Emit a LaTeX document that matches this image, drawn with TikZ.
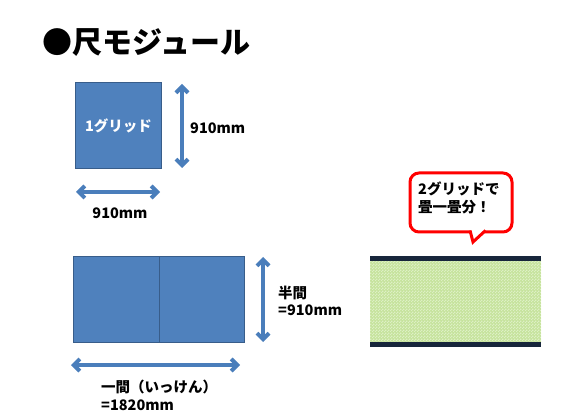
\documentclass[tikz,border=0pt]{standalone}
\usepackage{fontspec}
\setmainfont{Noto Sans CJK JP}
\usetikzlibrary{arrows.meta,patterns.meta}
\definecolor{gridblue}{HTML}{4F81BD}
\definecolor{gridline}{HTML}{385D8A}
\definecolor{arrowblue}{HTML}{4A7EBB}
\definecolor{tatamigreen}{HTML}{C6E39C}
\definecolor{tatamidot}{HTML}{DDF0C4}
\definecolor{heri}{HTML}{17263B}
\tikzdeclarepattern{
	name=finechecker,
	bottom left={(0pt,0pt)},
	top right={(3pt,3pt)},
	tile size={(3pt,3pt)},
	code={\fill (0pt,0pt) rectangle (1.5pt,1.5pt); \fill (1.5pt,1.5pt) rectangle (3pt,3pt);}
}
\begin{document}
\begin{tikzpicture}[x=1pt,y=-1pt,
	grid/.style={draw=gridline,fill=gridblue,line width=1pt,anchor=north west,inner sep=0pt},
	dim/.style={draw=arrowblue,line width=4pt,{Straight Barb[length=6pt,width=12pt]}-{Straight Barb[length=6pt,width=12pt]}},
	lbl/.style={font=\bfseries\fontsize{14.5}{17.5}\selectfont,align=left,inner sep=0pt}]
		% Frame
		\useasboundingbox (0,0) rectangle (588,419);

		% Title
		\node[anchor=west,inner sep=0pt,font=\bfseries\fontsize{30}{34}\selectfont] (title) at (42,43) {●尺モジュール};

		% One grid and its sizes
		\node[grid,minimum width=86pt,minimum height=86pt,text=white,lbl] (one) at (75,82) {1グリッド};
		\coordinate (onetop) at (182,84);
		\coordinate (onebot) at (182,168);
		\draw[dim] (onetop) -- (onebot);
		\node[lbl,anchor=west] (onev) at (190,128) {910mm};
		\coordinate (oneleft) at (76,192);
		\coordinate (oneright) at (160,192);
		\draw[dim] (oneleft) -- (oneright);
		\node[lbl] (oneh) at (120,213) {910mm};

		% Two grids and their sizes
		\node[grid,minimum width=86pt,minimum height=86pt] (left) at (73,256) {};
		\node[grid,minimum width=85pt,minimum height=86pt] (right) at (159,256) {};
		\coordinate (twotop) at (263,257);
		\coordinate (twobot) at (263,342);
		\draw[dim] (twotop) -- (twobot);
		\node[lbl,anchor=west] (twov) at (278,301) {半間\\=910mm};
		\coordinate (twoleft) at (71,365);
		\coordinate (tworight) at (240,365);
		\draw[dim] (twoleft) -- (tworight);
		\node[lbl,anchor=west] (twoh) at (101,395.5) {一間（いっけん）\\=1820mm};

		% Tatami
		\fill[tatamigreen] (370,259) rectangle (541,344);
		\fill[pattern=finechecker,pattern color=tatamidot] (370,259) rectangle (541,344);
		\draw[heri,line width=5pt] (370,259) -- (541,259);
		\draw[heri,line width=5pt] (370,344.2) -- (541,344.2);

		% Speech bubble
		\draw[red,line width=3pt,fill=white,rounded corners=9pt] (410,173) rectangle (512,232);
		\fill[white] (470.5,229) -- (470.5,232) -- (473,242) -- (484.5,232) -- (484.5,229) -- cycle;
		\draw[red,line width=3pt,line join=miter] (470,230.5) -- (473,242) -- (485.5,230.5);
		\node[lbl,anchor=west] (bubble) at (418,198) {2グリッドで\\畳一畳分！};
	\end{tikzpicture}
\end{document}
